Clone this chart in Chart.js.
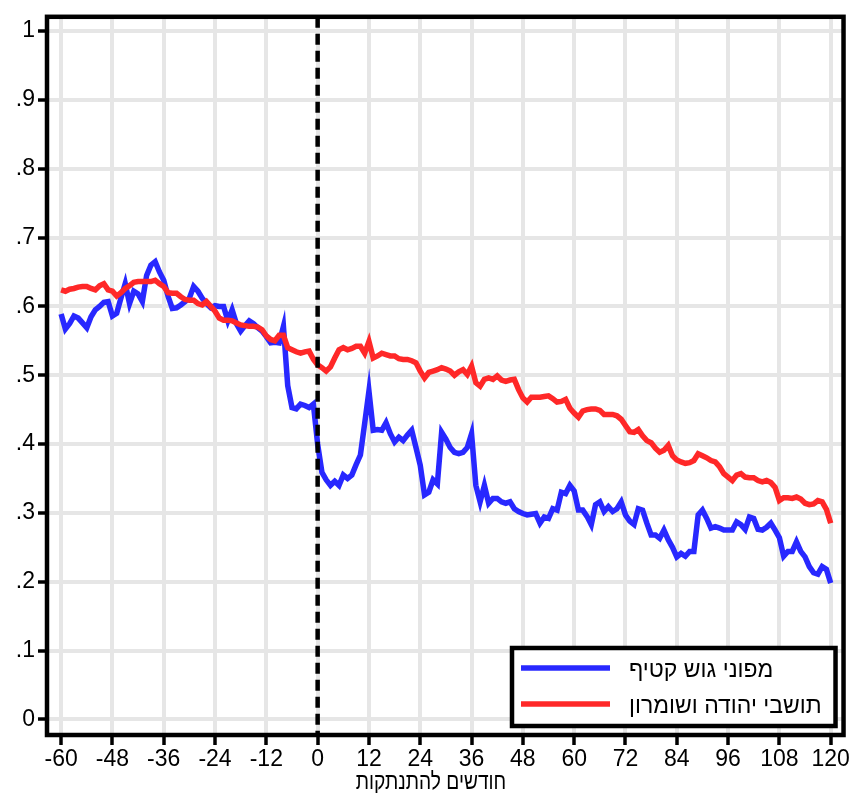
<!DOCTYPE html>
<html lang="he" dir="ltr">
<head>
<meta charset="utf-8">
<script src="https://cdn.jsdelivr.net/npm/chart.js@4.4.0/dist/chart.umd.min.js"></script>
<style>
    html, body { margin: 0; padding: 0; background: #fff; }
    #wrap { width: 851px; height: 793px; }
</style>
</head>
<body>
<div id="wrap"><canvas id="chart" width="851" height="793"></canvas></div>
<script>
(function () {
    "use strict";

    // months relative to disengagement, -60 .. 120
    const firstMonth = -60;
    const lastMonth = 120;

    const gushKatifLabel = "מפוני גוש קטיף";
    const gushKatif = [
        0.589, 0.567, 0.575, 0.586, 0.583, 0.576, 0.569, 0.585, 0.595, 0.600,
        0.606, 0.607, 0.586, 0.590, 0.612, 0.633, 0.604, 0.622, 0.618, 0.607,
        0.645, 0.660, 0.665, 0.650, 0.638, 0.615, 0.597, 0.598, 0.602, 0.607,
        0.612, 0.629, 0.622, 0.612, 0.604, 0.598, 0.601, 0.600, 0.600, 0.579,
        0.595, 0.575, 0.564, 0.572, 0.579, 0.575, 0.569, 0.564, 0.556, 0.547,
        0.548, 0.547, 0.571, 0.485, 0.453, 0.451, 0.458, 0.456, 0.453, 0.458,
        0.400, 0.359, 0.348, 0.340, 0.346, 0.340, 0.355, 0.350, 0.355, 0.370,
        0.384, 0.430, 0.477, 0.420, 0.421, 0.420, 0.431, 0.415, 0.403, 0.410,
        0.405, 0.413, 0.420, 0.395, 0.369, 0.326, 0.330, 0.348, 0.342, 0.417,
        0.407, 0.395, 0.388, 0.386, 0.388, 0.395, 0.415, 0.340, 0.316, 0.340,
        0.314, 0.321, 0.321, 0.316, 0.314, 0.316, 0.306, 0.302, 0.299, 0.297,
        0.298, 0.299, 0.285, 0.294, 0.292, 0.306, 0.304, 0.330, 0.328, 0.340,
        0.332, 0.304, 0.304, 0.295, 0.283, 0.312, 0.316, 0.302, 0.309, 0.302,
        0.306, 0.316, 0.297, 0.288, 0.283, 0.306, 0.304, 0.285, 0.268, 0.268,
        0.263, 0.275, 0.261, 0.250, 0.236, 0.241, 0.237, 0.244, 0.244, 0.297,
        0.304, 0.292, 0.278, 0.280, 0.278, 0.275, 0.275, 0.275, 0.287, 0.283,
        0.276, 0.294, 0.292, 0.276, 0.275, 0.279, 0.285, 0.275, 0.264, 0.237,
        0.244, 0.244, 0.258, 0.244, 0.236, 0.222, 0.213, 0.211, 0.222, 0.218,
        0.198,
    ];

    const judeaSamariaLabel = "תושבי יהודה ושומרון";
    const judeaSamaria = [
        0.624, 0.622, 0.625, 0.626, 0.628, 0.629, 0.629, 0.626, 0.624, 0.630,
        0.633, 0.624, 0.622, 0.615, 0.620, 0.626, 0.630, 0.635, 0.636, 0.636,
        0.636, 0.636, 0.638, 0.633, 0.629, 0.620, 0.619, 0.619, 0.614, 0.610,
        0.609, 0.609, 0.604, 0.602, 0.607, 0.600, 0.593, 0.583, 0.580, 0.580,
        0.579, 0.576, 0.573, 0.572, 0.571, 0.571, 0.570, 0.566, 0.557, 0.552,
        0.550, 0.558, 0.558, 0.540, 0.537, 0.534, 0.532, 0.534, 0.535, 0.523,
        0.515, 0.511, 0.506, 0.512, 0.525, 0.537, 0.540, 0.537, 0.539, 0.542,
        0.542, 0.532, 0.549, 0.525, 0.528, 0.532, 0.530, 0.528, 0.528, 0.524,
        0.523, 0.523, 0.521, 0.518, 0.506, 0.496, 0.504, 0.506, 0.508, 0.511,
        0.509, 0.506, 0.500, 0.505, 0.508, 0.501, 0.513, 0.489, 0.484, 0.494,
        0.496, 0.494, 0.499, 0.493, 0.491, 0.493, 0.494, 0.479, 0.467, 0.461,
        0.468, 0.468, 0.468, 0.469, 0.470, 0.466, 0.461, 0.462, 0.465, 0.452,
        0.445, 0.439, 0.448, 0.450, 0.451, 0.451, 0.449, 0.443, 0.443, 0.443,
        0.441, 0.436, 0.427, 0.418, 0.417, 0.421, 0.412, 0.405, 0.402, 0.394,
        0.388, 0.391, 0.398, 0.383, 0.377, 0.374, 0.372, 0.373, 0.376, 0.386,
        0.383, 0.380, 0.376, 0.374, 0.367, 0.357, 0.352, 0.347, 0.355, 0.357,
        0.352, 0.351, 0.351, 0.347, 0.345, 0.347, 0.344, 0.337, 0.318, 0.322,
        0.322, 0.321, 0.323, 0.320, 0.314, 0.312, 0.313, 0.318, 0.316, 0.305,
        0.285,
    ];

    const xTicks = [-60, -48, -36, -24, -12, 0, 12, 24, 36, 48, 60, 72, 84, 96, 108, 120];
    const yTicks = [0, 0.1, 0.2, 0.3, 0.4, 0.5, 0.6, 0.7, 0.8, 0.9, 1];
    const xTitle = "חודשים להתנתקות";

    const months = [];
    for (let m = firstMonth; m <= lastMonth; m++) months.push(m);

    const toPoints = (values) => values.map((v, i) => ({ x: months[i], y: v }));

    const blue = "rgb(40, 40, 255)";
    const red = "rgb(255, 40, 40)";
    const gridGray = "rgb(230, 230, 230)";
    const fontFamily = "'Liberation Sans', Arial, sans-serif";
    const narrowFamily = "'Liberation Sans Narrow', 'Arial Narrow', 'Liberation Sans', sans-serif";

    // dashed line at 0, frame, axis title and boxed legend
    const framePlugin = {
        id: "frame",
        afterDatasetsDraw(chart) {
            const { ctx, chartArea: a, scales } = chart;
            ctx.save();

            const x0 = scales.x.getPixelForValue(0);
            ctx.strokeStyle = "#000";
            ctx.lineWidth = 4.5;
            ctx.setLineDash([11, 6]);
            ctx.beginPath();
            ctx.moveTo(x0, a.top);
            ctx.lineTo(x0, a.bottom);
            ctx.stroke();
            ctx.setLineDash([]);

            ctx.lineWidth = 4.5;
            ctx.strokeRect(a.left, a.top, a.right - a.left, a.bottom - a.top);

            // x axis title (condensed like the original)
            ctx.save();
            ctx.translate(431, 782);
            ctx.scale(0.8, 1);
            ctx.fillStyle = "#000";
            ctx.font = "24px " + fontFamily;
            ctx.textAlign = "center";
            ctx.textBaseline = "middle";
            ctx.fillText(xTitle, 0, 0);
            ctx.restore();

            // legend box
            const box = { left: 512, top: 648, right: a.right - 8, bottom: a.bottom - 9 };
            ctx.fillStyle = "#fff";
            ctx.fillRect(box.left, box.top, box.right - box.left, box.bottom - box.top);
            ctx.lineWidth = 4.5;
            ctx.strokeRect(box.left, box.top, box.right - box.left, box.bottom - box.top);

            const rows = [0, 1].map((i) => chart.data.datasets[i]);
            rows.forEach((ds, i) => {
                const y = box.top + 20 + i * 36;
                ctx.strokeStyle = ds.borderColor;
                ctx.lineWidth = 5.5;
                ctx.beginPath();
                ctx.moveTo(box.left + 9, y);
                ctx.lineTo(box.left + 98, y);
                ctx.stroke();
                ctx.fillStyle = "#000";
                ctx.font = "23px " + fontFamily;
                ctx.textAlign = "left";
                ctx.textBaseline = "middle";
                ctx.fillText(ds.label, box.left + 117, y + 3);
            });

            ctx.restore();
        },
    };

    const ctx = document.getElementById("chart").getContext("2d");
    new Chart(ctx, {
        type: "line",
        data: {
            datasets: [
                {
                    label: gushKatifLabel,
                    data: toPoints(gushKatif),
                    borderColor: blue,
                    borderWidth: 5.5,
                    pointRadius: 0,
                    tension: 0,
                    order: 1,
                },
                {
                    label: judeaSamariaLabel,
                    data: toPoints(judeaSamaria),
                    borderColor: red,
                    borderWidth: 5.5,
                    pointRadius: 0,
                    tension: 0,
                    order: 0,
                },
            ],
        },
        options: {
            responsive: false,
            animation: false,
            layout: {
                padding: { left: 0, top: 13, right: 7, bottom: 0 },
            },
            plugins: {
                legend: { display: false },
                tooltip: { enabled: false },
            },
            scales: {
                x: {
                    type: "linear",
                    min: -63.3,
                    max: 123,
                    afterBuildTicks: (s) => {
                        s.ticks = xTicks.map((v) => ({ value: v }));
                    },
                    afterFit: (s) => {
                        s.height = 58;
                    },
                    ticks: {
                        color: "#000",
                        font: { family: narrowFamily, size: 23 },
                        padding: 1,
                        maxRotation: 0,
                        autoSkip: false,
                        callback: (v) => String(v),
                    },
                    grid: {
                        color: gridGray,
                        lineWidth: 4,
                        tickColor: "#000",
                        tickWidth: 3.5,
                        tickLength: 10,
                    },
                    border: { display: false },
                },
                y: {
                    min: -0.0227,
                    max: 1.0207,
                    afterBuildTicks: (s) => {
                        s.ticks = yTicks.map((v) => ({ value: v }));
                    },
                    afterFit: (s) => {
                        s.width = 47;
                    },
                    ticks: {
                        color: "#000",
                        font: { family: narrowFamily, size: 23 },
                        padding: 3,
                        autoSkip: false,
                        callback: (v) => {
                            if (v === 0) return "0";
                            if (v === 1) return "1";
                            return "." + Math.round(v * 10);
                        },
                    },
                    grid: {
                        color: gridGray,
                        lineWidth: 4,
                        tickColor: "#000",
                        tickWidth: 3.5,
                        tickLength: 9,
                    },
                    border: { display: false },
                },
            },
        },
        plugins: [framePlugin],
    });
})();
</script>
</body>
</html>
